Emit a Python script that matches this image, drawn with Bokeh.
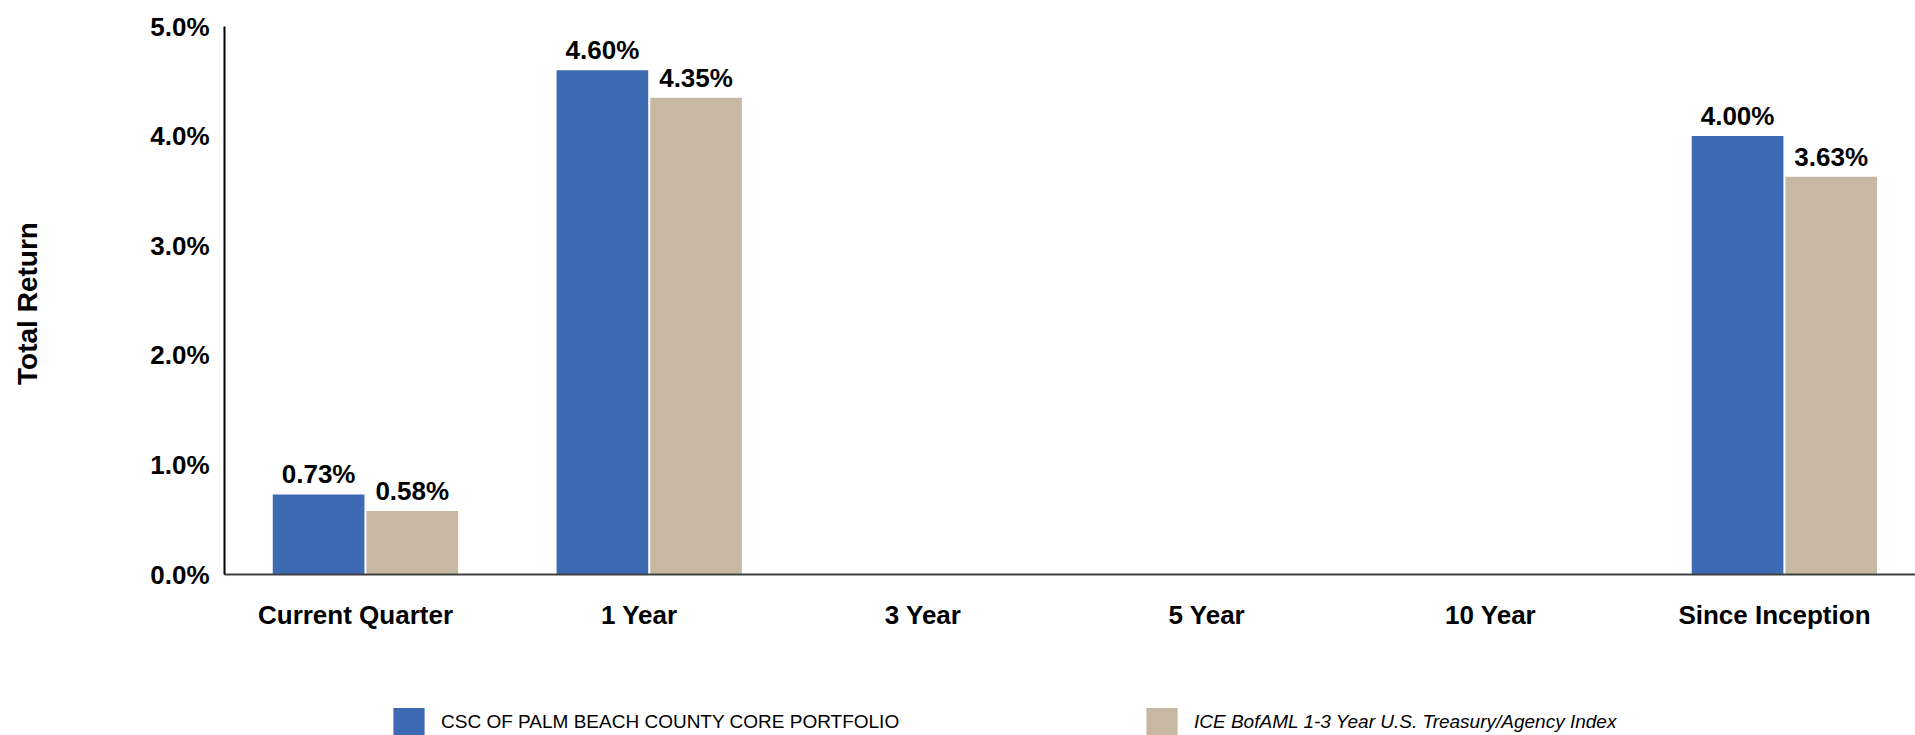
import math
from bokeh.plotting import figure
from bokeh.layouts import row, column
from bokeh.models import (ColumnDataSource, Range1d, FixedTicker, PrintfTickFormatter,
                          Legend, LegendItem, Label)
from bokeh.transform import dodge
from bokeh.core.properties import value
from bokeh.embed import file_html
from bokeh.resources import INLINE

# ---- data ----
categories = ["Current Quarter", "1 Year", "3 Year", "5 Year", "10 Year", "Since Inception"]
portfolio = [0.73, 4.60, None, None, None, 4.00]
benchmark = [0.58, 4.35, None, None, None, 3.63]
series_names = ["CSC OF PALM BEACH COUNTY CORE PORTFOLIO",
                "ICE BofAML 1-3 Year U.S. Treasury/Agency Index"]
y_ticks = [0, 1, 2, 3, 4, 5]
y_title = "Total Return"

# ---- style ----
BLUE = "#3E6AB3"
TAN = "#C7B8A3"
FONT = "Liberation Sans"
BW = 0.323
OFF_P, OFF_B = -0.130, 0.200
TW = 60          # width of the strip holding the axis title
MAIN_H = 700     # height of the main chart figure
LEG_H = 35       # height of the legend strip
TOP = 26         # frame top (px)
ZERO = 574       # frame bottom (px)


def make_source(vals):
    xs, tops, labels = [], [], []
    for i, v in enumerate(vals):
        if v is None:
            continue
        xs.append(i)
        tops.append(v)
        labels.append(f"{v:.2f}%")
    return ColumnDataSource(dict(x=xs, top=tops, label=labels))


src_p = make_source(portfolio)
src_b = make_source(benchmark)

# ---- main chart ----
p = figure(width=1915 - TW, height=MAIN_H, output_backend="svg", toolbar_location=None,
           x_range=Range1d(-0.4616, 5.497), y_range=Range1d(0, 5.0),
           min_border_left=224 - TW, min_border_right=0, min_border_top=TOP,
           min_border_bottom=MAIN_H - ZERO)
p.outline_line_color = None
p.xgrid.visible = False
p.ygrid.visible = False

p.vbar(x=dodge("x", OFF_P), top="top", bottom=0, width=BW, source=src_p,
       fill_color=BLUE, line_color=None)
p.vbar(x=dodge("x", OFF_B), top="top", bottom=0, width=BW, source=src_b,
       fill_color=TAN, line_color=None)

for src, off in ((src_p, OFF_P), (src_b, OFF_B)):
    p.text(x=dodge("x", off), y="top", text="label", source=src,
           text_font=value(FONT), text_font_style="bold", text_font_size="26px",
           text_align="center", text_baseline="middle", y_offset=-20,
           text_color="#000000")

xa = p.xaxis[0]
xa.ticker = FixedTicker(ticks=list(range(len(categories))))
xa.major_label_overrides = {i: c for i, c in enumerate(categories)}
xa.major_tick_line_color = None
xa.minor_tick_line_color = None
xa.major_tick_out = 0
xa.axis_line_color = "#404040"
xa.axis_line_width = 2
xa.major_label_standoff = 25
xa.major_label_text_font = FONT
xa.major_label_text_font_style = "bold"
xa.major_label_text_font_size = "26px"
xa.major_label_text_color = "#000000"

ya = p.yaxis[0]
ya.ticker = FixedTicker(ticks=y_ticks)
ya.formatter = PrintfTickFormatter(format="%.1f%%")
ya.major_tick_line_color = None
ya.minor_tick_line_color = None
ya.major_tick_out = 0
ya.axis_line_color = "#000000"
ya.axis_line_width = 2
ya.major_label_standoff = 15
ya.major_label_text_font = FONT
ya.major_label_text_font_style = "bold"
ya.major_label_text_font_size = "26px"
ya.major_label_text_color = "#000000"

# ---- axis title strip ----
tfig = figure(width=TW, height=MAIN_H + LEG_H, output_backend="svg", toolbar_location=None,
              x_axis_location=None, y_axis_location=None, min_border=0,
              x_range=Range1d(0, 1), y_range=Range1d(0, 1))
tfig.outline_line_color = None
tfig.grid.visible = False
tfig.add_layout(Label(x=27, y=303, x_units="canvas", y_units="canvas",
                      text=y_title, angle=math.pi / 2, text_align="center",
                      text_baseline="middle", text_font=FONT, text_font_size="28px",
                      text_font_style="bold", text_color="#000000"))

# ---- legend strip (its frame lines up with the chart frame) ----
lfig = figure(width=1915 - TW, height=LEG_H, output_backend="svg", toolbar_location=None,
              x_axis_location=None, y_axis_location=None, min_border=0,
              x_range=Range1d(0, 1), y_range=Range1d(0, 1))
lfig.outline_line_color = None
lfig.grid.visible = False
# hidden renderers (same data) only supply the legend swatches
k1 = lfig.vbar(x="x", top="top", width=BW, source=src_p, fill_color=BLUE,
               line_color=None, visible=False)
k2 = lfig.vbar(x="x", top="top", width=BW, source=src_b, fill_color=TAN,
               line_color=None, visible=False)

common = dict(orientation="horizontal", glyph_width=39, glyph_height=35,
              label_height=35, label_standoff=13, padding=0, margin=0,
              border_line_color=None, background_fill_alpha=0,
              label_text_font=FONT, label_text_font_size="19px",
              label_text_color="#000000")
leg1 = Legend(items=[LegendItem(label=series_names[0], renderers=[k1])],
              location=(389 - 224, -4), **common)
leg2 = Legend(items=[LegendItem(label=series_names[1], renderers=[k2])],
              location=(1142 - 224, -4), label_text_font_style="italic", **common)
lfig.add_layout(leg1)
lfig.add_layout(leg2)

layout = row(tfig, column(p, lfig, spacing=0), spacing=0)
open("out.html", "w").write(file_html(layout, INLINE))
